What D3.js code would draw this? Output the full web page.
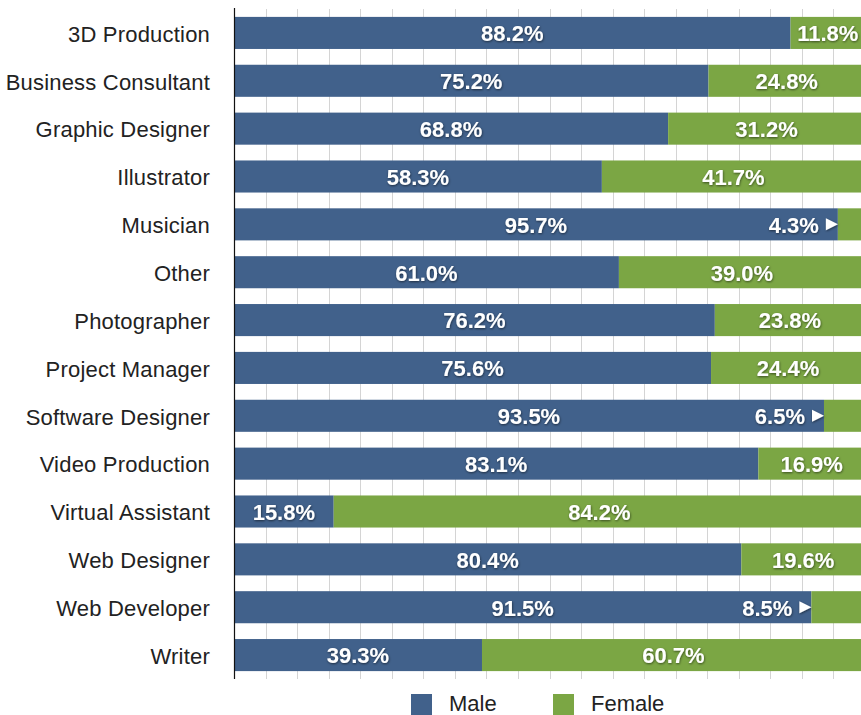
<!DOCTYPE html>
<html><head><meta charset="utf-8">
<script src="https://cdn.jsdelivr.net/npm/d3@7"></script>
<style>
html,body{margin:0;padding:0;background:#fff;}
svg{display:block;font-family:"Liberation Sans",Arial,Helvetica,sans-serif;}
</style></head>
<body>
<svg id="chart" width="861" height="715"></svg>
<script>
const categories = ["3D Production","Business Consultant","Graphic Designer","Illustrator","Musician","Other","Photographer","Project Manager","Software Designer","Video Production","Virtual Assistant","Web Designer","Web Developer","Writer"];
const maleValues = [88.2,75.2,68.8,58.3,95.7,61.0,76.2,75.6,93.5,83.1,15.8,80.4,91.5,39.3];
const femaleValues = [11.8,24.8,31.2,41.7,4.3,39.0,23.8,24.4,6.5,16.9,84.2,19.6,8.5,60.7];
const seriesNames = ["Male","Female"];
const seriesColors = ["#41618b","#7ba644"];
const gridTicks = d3.range(5, 101, 5);

(function(){
const svg = d3.select("#chart");
const mLeft = 234, mRight = 865, mTop = 9, mBottom = 679;

const rows = categories.map((c,i)=>({cat:c, Male:maleValues[i], Female:femaleValues[i]}));
const stack = d3.stack().keys(seriesNames)(rows);

const x = d3.scaleLinear().domain([0,100]).range([mLeft,mRight]);
const y = d3.scaleBand().domain(categories).range([mTop,mBottom]).paddingInner(0.33).paddingOuter(0.165);
const color = d3.scaleOrdinal().domain(seriesNames).range(seriesColors);

const defs = svg.append("defs");
const f = defs.append("filter").attr("id","shadow").attr("x","-20%").attr("y","-30%").attr("width","140%").attr("height","160%");
f.append("feDropShadow").attr("dx",0.5).attr("dy",1).attr("stdDeviation",1.2).attr("flood-color","#000").attr("flood-opacity",0.55);

// gridlines
svg.append("g").selectAll("line").data(gridTicks).join("line")
  .attr("x1",d=>Math.round(x(d))+0.5).attr("x2",d=>Math.round(x(d))+0.5)
  .attr("y1",mTop).attr("y2",mBottom)
  .attr("stroke","#d4d4d4").attr("stroke-width",1);

// bars
const g = svg.append("g");
stack.forEach(s=>{
  g.append("g").attr("fill",color(s.key)).selectAll("rect").data(s).join("rect")
    .attr("x",d=>x(d[0])).attr("width",d=>x(d[1])-x(d[0]))
    .attr("y",d=>y(d.data.cat)).attr("height",y.bandwidth());
});

// axis
const yAxis = d3.axisLeft(y).tickSize(0).tickPadding(24);
const ag = svg.append("g").attr("transform",`translate(${mLeft},0)`).call(yAxis);
ag.select(".domain").remove();
ag.selectAll("text").attr("font-size",22).attr("letter-spacing","0.2px").attr("dy","0.4em").attr("fill","#222").attr("font-family","'Liberation Sans',Arial,sans-serif");
svg.append("line").attr("x1",mLeft+0.5).attr("x2",mLeft+0.5).attr("y1",mTop-1).attr("y2",mBottom).attr("stroke","#111").attr("stroke-width",1.2);

// value labels
const lab = svg.append("g").attr("font-weight","bold").attr("font-size",22).attr("fill","#fff").attr("filter","url(#shadow)");
stack.forEach(s=>{
  s.forEach(d=>{
    const v = d.data[s.key];
    const cy = y(d.data.cat)+y.bandwidth()/2;
    if (s.key==="Female" && v<10) {
      const xb = x(d[0]);
      lab.append("text").attr("x",xb-19).attr("y",cy).attr("dy","0.38em").attr("text-anchor","end").text(v.toFixed(1)+"%");
      lab.append("path").attr("d",`M${xb-12},${cy-6}L${xb},${cy}L${xb-12},${cy+6}Z`);
    } else {
      lab.append("text").attr("x",(x(d[0])+x(d[1]))/2).attr("y",cy).attr("dy","0.38em").attr("text-anchor","middle").text(v.toFixed(1)+"%");
    }
  });
});

// legend
const legendX = [411,553];
const lg = svg.append("g");
seriesNames.forEach((n,i)=>{
  lg.append("rect").attr("x",legendX[i]).attr("y",694).attr("width",21).attr("height",21).attr("fill",color(n));
  lg.append("text").attr("x",legendX[i]+38).attr("y",711).attr("font-size",22).attr("fill","#222").text(n);
});
})();
</script>
</body></html>
